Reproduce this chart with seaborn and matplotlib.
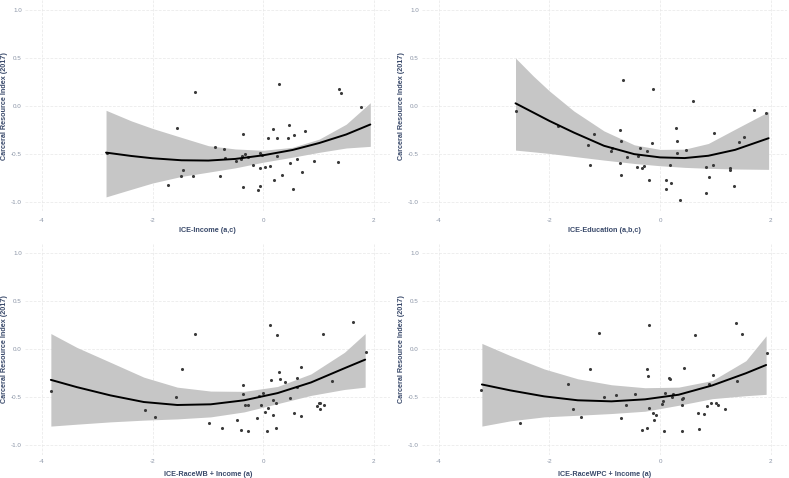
import numpy as np
import pandas as pd
import matplotlib.pyplot as plt
import seaborn as sns

# scatter values
income_x = [-2.82, -1.72, -1.56, -1.49, -1.45, -1.26, -1.23, -0.876, -0.773, -0.70,
            -0.683, -0.489, -0.405, -0.38, -0.369, -0.369, -0.33, -0.278, -0.193, -0.09,
            -0.066, -0.066, -0.06, -0.03, 0.024, 0.079, 0.127, 0.169, 0.199, 0.248,
            0.254, 0.284, 0.332, 0.447, 0.471, 0.489, 0.532, 0.562, 0.604, 0.695,
            0.755, 0.918, 1.347, 1.366, 1.408, 1.764]
income_y = [-0.486, -0.825, -0.227, -0.731, -0.664, -0.734, 0.147, -0.427, -0.731, -0.448,
            -0.538, -0.573, -0.552, -0.517, -0.297, -0.846, -0.497, -0.531, -0.619, -0.874,
            -0.839, -0.647, -0.49, -0.51, -0.64, -0.332, -0.622, -0.238, -0.776, -0.521,
            -0.332, 0.234, -0.717, -0.336, -0.196, -0.598, -0.864, -0.301, -0.556, -0.692,
            -0.262, -0.57, -0.587, 0.182, 0.14, -0.014]

edu_x = [-2.61, -1.84, -1.30, -1.27, -1.19, -0.896, -0.872, -0.732, -0.72, -0.71,
         -0.70, -0.67, -0.604, -0.42, -0.396, -0.366, -0.323, -0.287, -0.238, -0.195,
         -0.152, -0.134, 0.098, 0.104, 0.177, 0.201, 0.287, 0.305, 0.311, 0.354,
         0.47, 0.598, 0.835, 0.835, 0.89, 0.95, 0.97, 1.256, 1.256, 1.33,
         1.433, 1.524, 1.695, 1.92]
edu_y = [-0.052, -0.206, -0.409, -0.615, -0.29, -0.465, -0.44, -0.252, -0.598, -0.72,
         -0.364, 0.266, -0.531, -0.633, -0.52, -0.437, -0.647, -0.622, -0.472, -0.773,
         -0.381, 0.178, -0.776, -0.867, -0.619, -0.804, -0.231, -0.367, -0.493, -0.976,
         -0.462, 0.052, -0.64, -0.909, -0.741, -0.615, -0.283, -0.65, -0.668, -0.839,
         -0.374, -0.322, -0.042, -0.077]

racewb_x = [-3.84, -2.13, -1.95, -1.58, -1.47, -1.23, -0.98, -0.737, -0.471, -0.393,
            -0.369, -0.356, -0.32, -0.278, -0.272, -0.103, -0.073, -0.048, 0.0, 0.024,
            0.066, 0.079, 0.115, 0.139, 0.169, 0.169, 0.224, 0.224, 0.254, 0.278,
            0.308, 0.387, 0.477, 0.556, 0.61, 0.61, 0.677, 0.689, 0.967, 1.015,
            1.021, 1.033, 1.075, 1.10, 1.245, 1.63, 1.855]
racewb_y = [-0.438, -0.632, -0.705, -0.50, -0.208, 0.16, -0.767, -0.819, -0.743, -0.844,
            -0.375, -0.465, -0.58, -0.583, -0.854, -0.719, -0.49, -0.583, -0.458, -0.656,
            -0.851, -0.615, 0.253, -0.319, -0.684, -0.528, -0.559, -0.819, 0.149, -0.24,
            -0.312, -0.347, -0.51, -0.667, -0.302, -0.396, -0.698, -0.191, -0.594, -0.566,
            -0.622, -0.563, 0.16, -0.58, -0.33, 0.281, -0.031]

racewpc_x = [-3.23, -2.53, -1.67, -1.58, -1.43, -1.26, -1.10, -1.02, -0.805, -0.707,
             -0.61, -0.45, -0.335, -0.232, -0.226, -0.244, -0.207, -0.195, -0.122, -0.116,
             -0.073, 0.037, 0.049, 0.067, 0.079, 0.152, 0.171, 0.213, 0.226, 0.39,
             0.396, 0.39, 0.42, 0.427, 0.634, 0.689, 0.707, 0.787, 0.854, 0.89,
             0.92, 0.963, 1.006, 1.037, 1.177, 1.39, 1.366, 1.488, 1.927]
racewpc_y = [-0.427, -0.774, -0.368, -0.625, -0.705, -0.205, 0.163, -0.503, -0.476, -0.719,
             -0.58, -0.465, -0.844, -0.208, -0.281, -0.823, 0.253, -0.615, -0.663, -0.736,
             -0.684, -0.576, -0.538, -0.851, -0.455, -0.302, -0.316, -0.497, -0.469, -0.521,
             -0.851, -0.583, -0.51, -0.198, 0.146, -0.667, -0.837, -0.677, -0.594, -0.365,
             -0.566, -0.271, -0.563, -0.58, -0.622, -0.33, 0.271, 0.153, -0.045]

# fitted curves and 95% bands
income_fx = [-2.84, -2.385, -2.0, -1.475, -0.99, -0.504, 0.0, 0.528, 1.014, 1.5, 1.936]
income_fit = [-0.486, -0.521, -0.545, -0.566, -0.569, -0.552, -0.514, -0.459, -0.386, -0.297, -0.193]
income_hi = [-0.045, -0.155, -0.234, -0.328, -0.414, -0.448, -0.462, -0.431, -0.345, -0.19, 0.034]
income_lo = [-0.948, -0.869, -0.803, -0.734, -0.69, -0.645, -0.586, -0.534, -0.483, -0.438, -0.421]

edu_fx = [-2.614, -2.29, -2.0, -1.56, -1.015, -0.468, 0.0, 0.444, 0.87, 1.356, 1.96]
edu_fit = [0.028, -0.069, -0.156, -0.277, -0.415, -0.502, -0.536, -0.543, -0.519, -0.457, -0.336]
edu_hi = [0.50, 0.311, 0.156, -0.052, -0.26, -0.405, -0.453, -0.45, -0.391, -0.242, -0.059]
edu_lo = [-0.46, -0.478, -0.495, -0.526, -0.564, -0.599, -0.623, -0.64, -0.65, -0.657, -0.661]

racewb_fx = [-3.837, -3.366, -2.76, -2.157, -1.553, -0.949, -0.344, 0.26, 0.864, 1.468, 1.843]
racewb_fit = [-0.321, -0.397, -0.483, -0.552, -0.583, -0.576, -0.534, -0.459, -0.348, -0.2, -0.11]
racewb_hi = [0.162, 0.017, -0.138, -0.293, -0.397, -0.438, -0.441, -0.39, -0.259, -0.034, 0.162]
racewb_lo = [-0.803, -0.783, -0.759, -0.741, -0.728, -0.707, -0.655, -0.569, -0.483, -0.421, -0.397]

racewpc_fx = [-3.222, -2.705, -2.097, -1.489, -0.881, -0.274, 0.334, 0.942, 1.55, 1.915]
racewpc_fit = [-0.369, -0.431, -0.493, -0.534, -0.545, -0.524, -0.476, -0.379, -0.252, -0.166]
racewpc_hi = [0.059, -0.069, -0.207, -0.31, -0.372, -0.403, -0.397, -0.328, -0.121, 0.138]
racewpc_lo = [-0.803, -0.748, -0.707, -0.69, -0.672, -0.648, -0.586, -0.517, -0.486, -0.472]

panel_labels = ["ICE-Income (a,c)", "ICE-Education (a,b,c)",
                "ICE-RaceWB + Income (a)", "ICE-RaceWPC + Income (a)"]
y_label = "Carceral Resource Index (2017)"
x_ticks = [-4, -2, 0, 2]
y_ticks = [-1.0, -0.5, 0.0, 0.5, 1.0]

sns.set_theme(style="white")
plt.rcParams['font.family'] = ['Liberation Sans', 'DejaVu Sans']

title_col = '#3a4a6b'
tick_col = '#8a94a6'

fig, axes = plt.subplots(2, 2, figsize=(7.89, 4.78), dpi=100)
fig.subplots_adjust(left=0.032, right=0.998, top=0.999, bottom=0.049,
                    wspace=0.087, hspace=0.152)

scatters = [(income_x, income_y), (edu_x, edu_y), (racewb_x, racewb_y), (racewpc_x, racewpc_y)]
fits = [(income_fx, income_fit, income_lo, income_hi),
        (edu_fx, edu_fit, edu_lo, edu_hi),
        (racewb_fx, racewb_fit, racewb_lo, racewb_hi),
        (racewpc_fx, racewpc_fit, racewpc_lo, racewpc_hi)]

for i, (ax, (xs, ys), (fx, fy, lo, hi), lab) in enumerate(zip(axes.flat, scatters, fits, panel_labels)):
    fit_df = pd.DataFrame({'x': fx, 'fit': fy, 'lo': lo, 'hi': hi})
    ax.fill_between(fit_df['x'], fit_df['lo'], fit_df['hi'], color='#c6c6c6', lw=0, zorder=1)
    sns.scatterplot(x=xs, y=ys, ax=ax, s=5, color='#3a3a3a', linewidth=0, zorder=2)
    sns.lineplot(data=fit_df, x='x', y='fit', ax=ax, color='black', lw=1.4, zorder=3)
    ax.set_xlim(-4.3, 2.3)
    ax.set_ylim(-1.1, 1.1)
    ax.set_xticks(x_ticks)
    ax.set_yticks(y_ticks)
    ax.set_xticklabels([str(t) for t in x_ticks])
    ax.set_yticklabels([f"{t:.1f}" for t in y_ticks])
    ax.grid(True, color='#e8e8e8', lw=0.5, ls=(0, (4, 2)))
    ax.set_axisbelow(True)
    for s in ax.spines.values():
        s.set_visible(False)
    ax.tick_params(axis='both', length=0, labelsize=4.5, labelcolor=tick_col, pad=2.5)
    ax.tick_params(axis='x', pad=5 if i < 2 else 3.5)
    ax.set_xlabel(lab, fontsize=5.2, fontweight='bold', color=title_col,
                  labelpad=2.5 if i < 2 else 4.5)
    ax.set_ylabel(y_label, fontsize=5.2, fontweight='bold', color=title_col, labelpad=2)

fig.savefig('out.png', dpi=100)
